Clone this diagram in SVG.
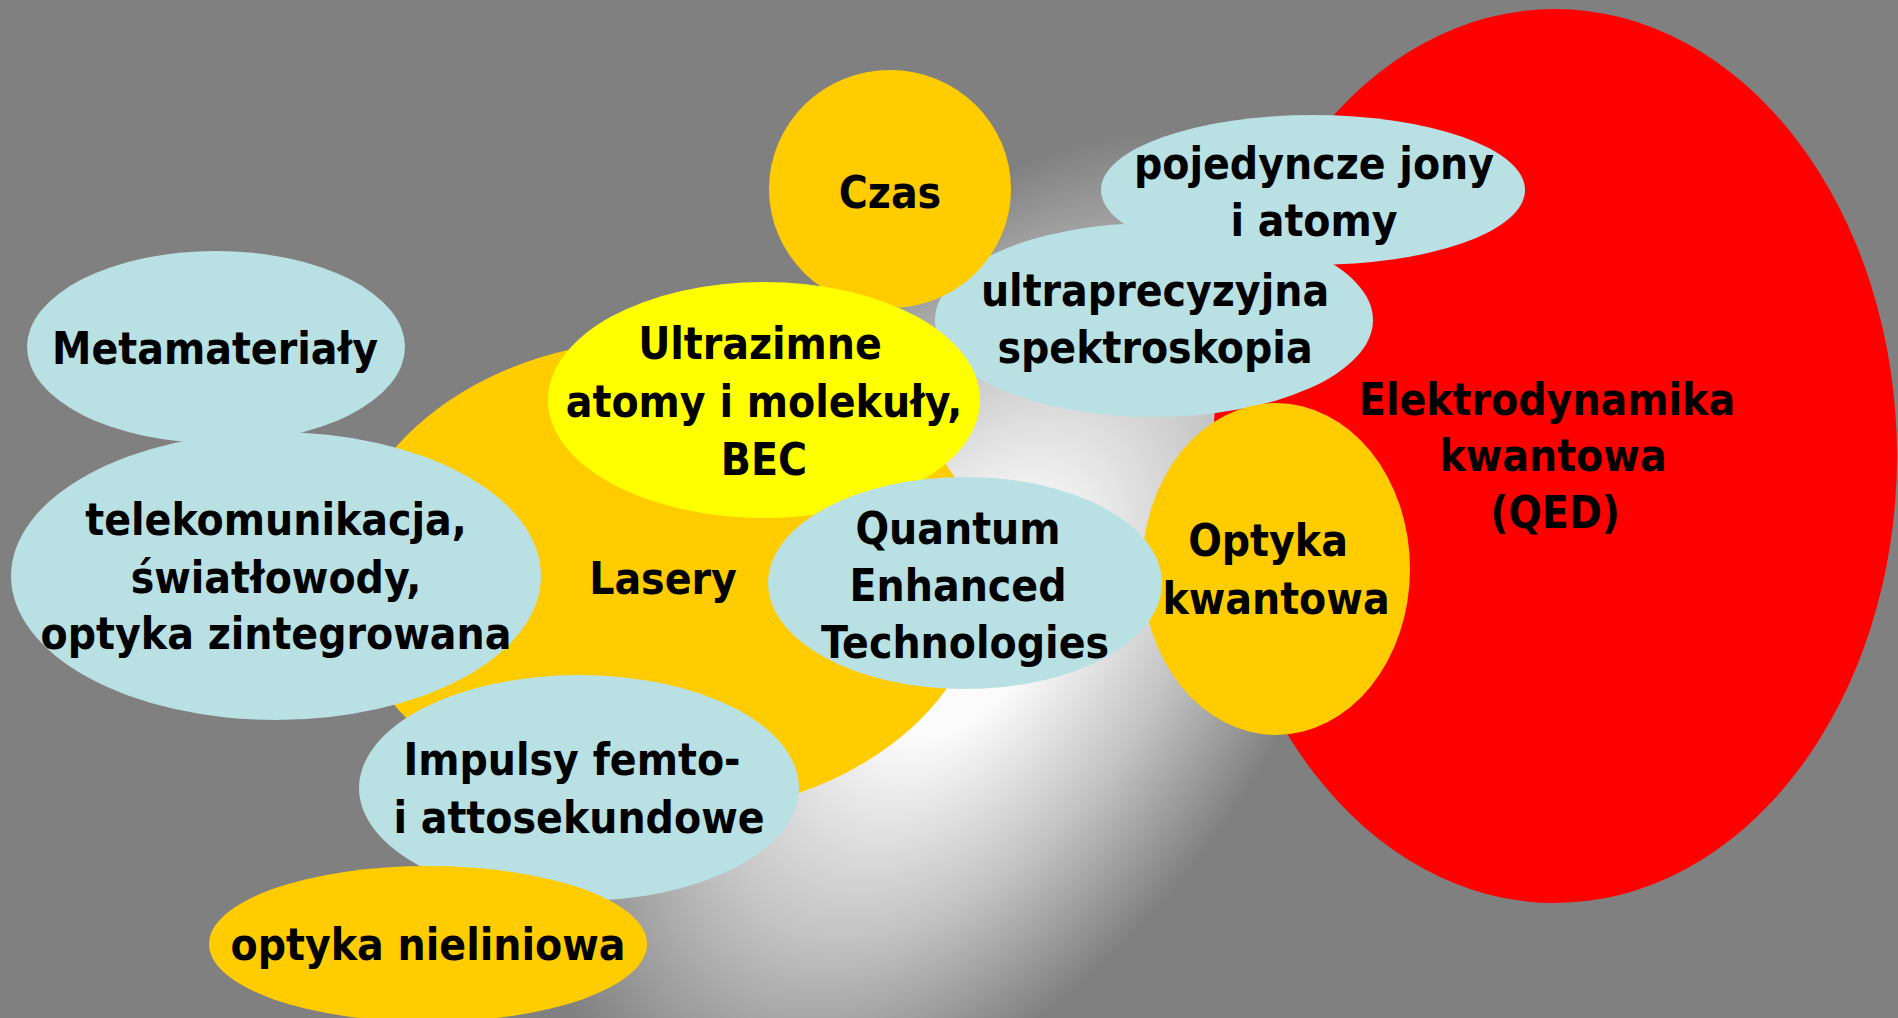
<svg xmlns="http://www.w3.org/2000/svg" width="1898" height="1018" viewBox="0 0 1898 1018">
<defs>
<radialGradient id="glow" gradientUnits="userSpaceOnUse" cx="0" cy="0" r="1" gradientTransform="translate(965 630) rotate(125) scale(630 360)">
<stop offset="0" stop-color="#ffffff"/>
<stop offset="0.2" stop-color="#fafafa"/>
<stop offset="0.55" stop-color="#c4c4c4"/>
<stop offset="0.9" stop-color="#808080"/>
<stop offset="1" stop-color="#808080"/>
</radialGradient>
<style>
.t{font-family:"DejaVu Sans Condensed","DejaVu Sans",sans-serif;font-weight:bold;font-size:44px;fill:#000;text-anchor:middle}
.blue{fill:#b9e0e3}
.orange{fill:#ffcc00}
.yellow{fill:#ffff00}
.red{fill:#ff0000}
</style>
</defs>
<rect id="background" x="0" y="0" width="1898" height="1018" fill="url(#glow)"/>
<g id="connectors"/>
<g id="qed">
<ellipse class="red" cx="1555" cy="456" rx="342" ry="447"/>
<text class="t" x="1547" y="415">Elektrodynamika</text>
<text class="t" x="1553" y="471">kwantowa</text>
<text class="t" x="1555" y="528">(QED)</text>
</g>
<g id="lasery">
<ellipse class="orange" cx="664" cy="577" rx="320" ry="238"/>
<text class="t" x="663" y="594">Lasery</text>
</g>
<g id="metamaterialy">
<ellipse class="blue" cx="216" cy="347" rx="189" ry="96"/>
<text class="t" x="215" y="364">Metamateriały</text>
</g>
<g id="telekomunikacja">
<ellipse class="blue" cx="276" cy="576" rx="265" ry="144"/>
<text class="t" x="276" y="535">telekomunikacja,</text>
<text class="t" x="276" y="593">światłowody,</text>
<text class="t" x="276" y="649">optyka zintegrowana</text>
</g>
<g id="impulsy">
<ellipse class="blue" cx="579" cy="788" rx="220" ry="113"/>
<text class="t" x="572" y="775">Impulsy femto-</text>
<text class="t" x="579" y="833">i attosekundowe</text>
</g>
<g id="nieliniowa">
<ellipse class="orange" cx="428" cy="944" rx="219" ry="78"/>
<text class="t" x="428" y="960">optyka nieliniowa</text>
</g>
<g id="spektroskopia">
<ellipse class="blue" cx="1154" cy="320" rx="219" ry="97"/>
<text class="t" x="1155" y="306">ultraprecyzyjna</text>
<text class="t" x="1155" y="363">spektroskopia</text>
</g>
<g id="jony">
<ellipse class="blue" cx="1313" cy="190" rx="212" ry="75"/>
<text class="t" x="1314" y="179">pojedyncze jony</text>
<text class="t" x="1314" y="236">i atomy</text>
</g>
<g id="czas">
<ellipse class="orange" cx="890" cy="189" rx="121" ry="119"/>
<text class="t" x="890" y="208">Czas</text>
</g>
<g id="ultrazimne">
<ellipse class="yellow" cx="764" cy="400" rx="216" ry="118"/>
<text class="t" x="760" y="359">Ultrazimne</text>
<text class="t" x="764" y="417">atomy i molekuły,</text>
<text class="t" x="764" y="475">BEC</text>
</g>
<g id="optyka-kwantowa">
<ellipse class="orange" cx="1276" cy="569" rx="134" ry="166"/>
<text class="t" x="1268" y="556">Optyka</text>
<text class="t" x="1276" y="614">kwantowa</text>
</g>
<g id="quantum">
<ellipse class="blue" cx="965" cy="583" rx="197" ry="106"/>
<text class="t" x="958" y="544">Quantum</text>
<text class="t" x="958" y="601">Enhanced</text>
<text class="t" x="965" y="658">Technologies</text>
</g>
</svg>
